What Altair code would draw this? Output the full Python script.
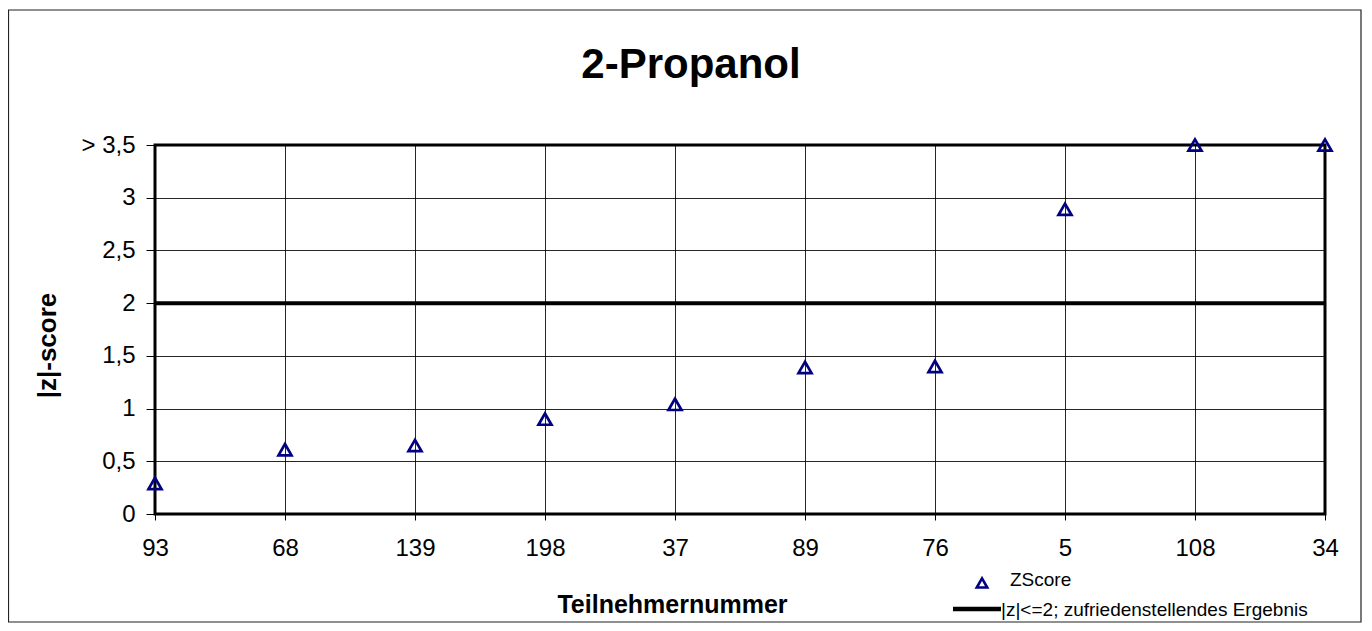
import altair as alt
import pandas as pd

participants = ["93", "68", "139", "198", "37", "89", "76", "5", "108", "34"]
zscores = [0.29, 0.61, 0.65, 0.90, 1.04, 1.39, 1.40, 2.89, 3.5, 3.5]
threshold = 2.0
y_ticks = [0, 0.5, 1, 1.5, 2, 2.5, 3, 3.5]

series_labels = ["ZScore", "|z|<=2; zufriedenstellendes Ergebnis"]
chart_title = "2-Propanol"
x_title = "Teilnehmernummer"
y_title = "|z|-score"

FONT = "Liberation Sans"
W, H = 1170, 369

df = pd.DataFrame({"nr": participants, "z": zscores})
thr = pd.DataFrame({"z": [threshold]})
dummy = pd.DataFrame({"a": [0]})

x_enc = alt.X(
    "nr:N",
    sort=participants,
    scale=alt.Scale(type="point", padding=0),
    axis=alt.Axis(
        title=x_title,
        labelAngle=0,
        labelFont=FONT,
        labelFontSize=24,
        labelColor="black",
        labelPadding=16,
        tickSize=6,
        tickColor="black",
        domain=False,
        grid=True,
        gridColor="black",
        gridWidth=1,
        gridOpacity=0.85,
        titleFont=FONT,
        titleFontSize=25,
        titleFontWeight="bold",
        titleColor="black",
        titleX=517,
        titleY=90,
        titleBaseline="middle",
        titleAnchor="start",
        titleAlign="center",
    ),
)

y_enc = alt.Y(
    "z:Q",
    scale=alt.Scale(domain=[0, 3.5], nice=False),
    axis=alt.Axis(
        title=y_title,
        values=y_ticks,
        labelExpr="datum.value == 3.5 ? '> 3,5' : replace(toString(datum.value), '.', ',')",
        labelFont=FONT,
        labelFontSize=24,
        labelColor="black",
        labelPadding=11,
        tickSize=9,
        tickColor="black",
        domain=False,
        grid=True,
        gridColor="black",
        gridWidth=1,
        gridOpacity=0.85,
        titleFont=FONT,
        titleFontSize=26,
        titleFontWeight="bold",
        titleColor="black",
        titleAngle=-90,
        titleX=-108,
        titleY=200,
        titleAlign="center",
        titleBaseline="middle",
        titleAnchor="start",
    ),
)

points = alt.Chart(df).mark_point(
    shape="triangle-up", filled=False, color="#000080", strokeWidth=2.7, size=170, opacity=1
).encode(x=x_enc, y=y_enc)

rule = alt.Chart(thr).mark_rule(color="black", strokeWidth=4).encode(y="z:Q")

title_text = alt.Chart(dummy).mark_text(
    text=chart_title, font=FONT, fontSize=42, fontWeight="bold", color="black",
    align="center", baseline="middle"
).encode(x=alt.value(536), y=alt.value(-80))

leg_sym = alt.Chart(dummy).mark_point(
    shape="triangle-up", filled=False, color="#000080", strokeWidth=2.6, size=110, opacity=1
).encode(x=alt.value(827), y=alt.value(438))
leg_txt1 = alt.Chart(dummy).mark_text(
    text=series_labels[0], font=FONT, fontSize=19, color="black", align="left", baseline="middle"
).encode(x=alt.value(855), y=alt.value(435))
leg_line = alt.Chart(dummy).mark_rule(color="black", strokeWidth=4.5).encode(
    x=alt.value(798), x2=alt.value(846), y=alt.value(464)
)
leg_txt2 = alt.Chart(dummy).mark_text(
    text=series_labels[1], font=FONT, fontSize=19, color="black", align="left", baseline="middle"
).encode(x=alt.value(846), y=alt.value(465))

frame = alt.Chart(dummy).mark_rect(filled=False, stroke="#222222", strokeWidth=1.2).encode(
    x=alt.value(-146.5), x2=alt.value(1206), y=alt.value(-135), y2=alt.value(477)
)

chart = alt.layer(
    frame, rule, points, title_text, leg_sym, leg_txt1, leg_line, leg_txt2
).properties(
    width=W, height=H,
    autosize=alt.AutoSizeParams(type="none"),
    padding={"left": 147, "top": 137, "right": 39, "bottom": 109},
    background="white",
).configure_view(
    stroke="black", strokeWidth=3
)

chart.save("out.html", embed_options={"renderer": "svg", "actions": False})
